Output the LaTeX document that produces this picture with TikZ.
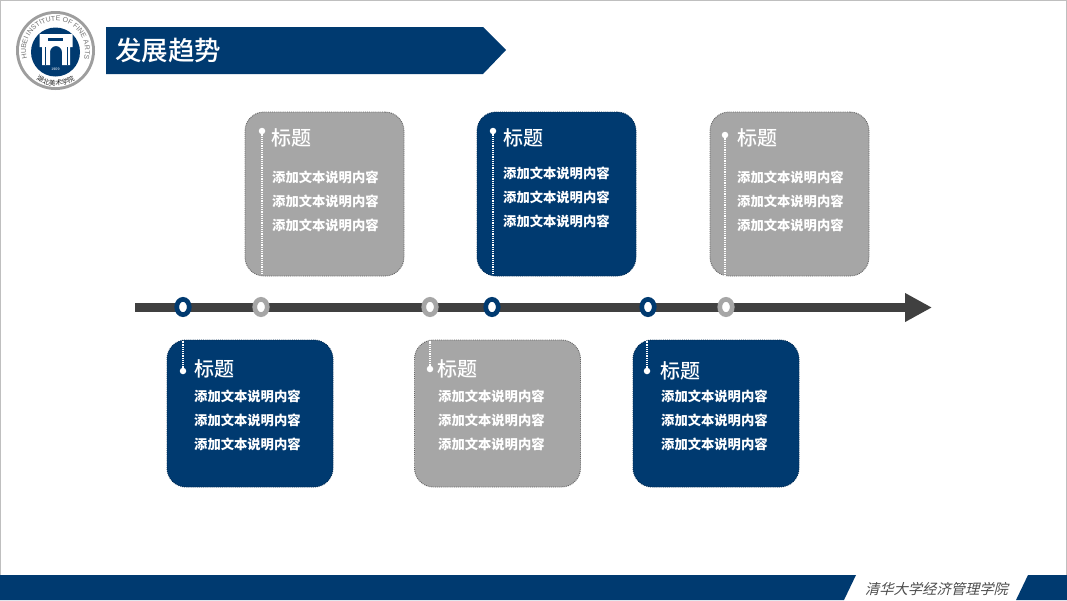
\documentclass[tikz,border=0pt]{standalone}
\usepackage{fontspec}
\setmainfont{Noto Sans CJK SC}
\newfontfamily\slantcjk[FakeSlant=0.25]{Noto Sans CJK SC}
\newfontfamily\medcjk{Noto Sans CJK SC Medium}
\newfontfamily\latinlogo{Liberation Sans}
\usetikzlibrary{arrows.meta,positioning,shapes.geometric,decorations.text}
\definecolor{navy}{HTML}{003A70}
\definecolor{greycard}{HTML}{A6A6A6}
\definecolor{axis}{HTML}{404040}
\tikzset{bluecard/.style={draw=navy!75!black,densely dotted,line width=.9pt,fill=navy,rounded corners=19pt,minimum width=159pt,minimum height=164pt,inner sep=0pt},
 greybox/.style={draw=black!60,densely dotted,line width=.9pt,fill=greycard,rounded corners=19pt,minimum width=159pt,minimum height=164pt,inner sep=0pt},
 lowcard/.style={minimum width=166pt,minimum height=147pt},
 ttl/.style={anchor=west,text=white,font=\fontsize{20}{20}\medcjk,inner sep=0pt},
 txt/.style={anchor=west,text=white,font=\fontsize{13.3}{14}\selectfont\bfseries,inner sep=0pt},
 pin/.style={circle,fill=white,inner sep=0pt,minimum size=6.5pt},
 stem/.style={white,densely dotted,line width=1.2pt},
 bluemark/.style={ellipse,draw=navy,line width=4.7pt,fill=white,inner sep=0pt,minimum width=12.5pt,minimum height=15.3pt},
 greymark/.style={bluemark,draw=greycard}}
\begin{document}
\begin{tikzpicture}[x=1pt,y=-1pt]
\useasboundingbox (0,0) rectangle (1067,600);
\fill[white] (0,0) rectangle (1067,600);
\draw[black!25,line width=1.2pt] (.5,600)--(.5,.5)--(1066.5,.5)--(1066.5,600);
% header and footer
\fill[navy] (106,27)--(483,27)--(506,50)--(483,74)--(106,74)--cycle;
\node[anchor=west,text=white,font=\fontsize{26.5}{27}\medcjk,inner sep=0pt] (header) at (115,50){发展趋势};
\fill[navy] (0,575)--(856,575)--(844,600)--(0,600)--cycle;
\fill[navy] (1028,575)--(1067,575)--(1067,600)--(1016,600)--cycle;
\node[text=black!70,font=\fontsize{14.3}{15}\slantcjk,inner sep=0pt] (school) at (936.5,589){清华大学经济管理学院};
% logo
\fill[black!38] (55.5,50.5) circle(39.5);
\fill[white] (55.5,50.5) circle(36.5);
\fill[navy] (55.5,52) circle(24.5);
\fill[white] (39.5,34)--(72.5,34)--(72.5,47)--(70,47)--(70,65)--(62,65)--(62,52) arc[start angle=0,end angle=-180,radius=6]--(50,65)--(42,65)--(42,47)--(39.5,47)--cycle;
\fill[navy] (48,38) rectangle (63,41);
\draw[navy,line width=.6pt] (45,47)--(45,65) (67,47)--(67,65);
\node[text=white,font=\fontsize{3.6}{4}\latinlogo,inner sep=0pt] (year) at (55.5,69){1909};
\path[decorate,decoration={text along path,text align=center,text color=black!55,text={|\fontsize{7}{8}\latinlogo|HUBEI INSTITUTE OF FINE ARTS}}] (55.5,50.5) ++(155:29.5) arc[start angle=155,end angle=385,radius=29.5];
\path[decorate,decoration={text along path,text align=center,text color=black!85,text={|\fontsize{6.8}{8}\selectfont|湖北美术学院}}] (55.5,50.5) ++(125:35) arc[start angle=125,end angle=55,radius=35];
% time line
\coordinate (lineStart) at (135,307.5);\coordinate (lineEnd) at (932,307.5);
\draw[axis,line width=9pt,-{Triangle[length=27pt,width=27pt]}] (lineStart)--(lineEnd);
\node[bluemark] (m1) at (183,307){};\node[greymark] (m2) at (261,307){};
\node[greymark] (m3) at (430,307){};\node[bluemark] (m4) at (492,307){};
\node[bluemark] (m5) at (648,307){};\node[greymark] (m6) at (726,307){};
% upper cards
\node[greybox] (c1) at (324.5,194){};
\node[pin] (p1) at (262,131){};\coordinate (e1) at (262,275);\draw[stem] (p1)--(e1);
\node[ttl] (t1) at (271,138){标题};
\foreach \n/\y in {1/177,2/201,3/225}{\node[txt] (b1\n) at (272,\y){添加文本说明内容};}
\node[bluecard] (c2) at (556.5,194){};
\node[pin] (p2) at (493,131){};\coordinate (e2) at (493,275);\draw[stem] (p2)--(e2);
\node[ttl] (t2) at (503,138){标题};
\foreach \n/\y in {1/173,2/197,3/221}{\node[txt] (b2\n) at (503,\y){添加文本说明内容};}
\node[greybox] (c3) at (789.5,194){};
\node[pin] (p3) at (725,135){};\coordinate (e3) at (725,275);\draw[stem] (p3)--(e3);
\node[ttl] (t3) at (737,138){标题};
\foreach \n/\y in {1/177,2/201,3/225}{\node[txt] (b3\n) at (737,\y){添加文本说明内容};}
% lower cards
\node[bluecard,lowcard] (c4) at (250,413.5){};
\node[pin] (p4) at (183,371){};\coordinate (e4) at (183,341);\draw[stem] (p4)--(e4);
\node[ttl] (t4) at (194,369){标题};
\foreach \n/\y in {1/396,2/420,3/444}{\node[txt] (b4\n) at (194,\y){添加文本说明内容};}
\node[greybox,lowcard] (c5) at (497.5,413.5){};
\node[pin] (p5) at (430,369){};\coordinate (e5) at (430,341);\draw[stem] (p5)--(e5);
\node[ttl] (t5) at (437,369){标题};
\foreach \n/\y in {1/396,2/420,3/444}{\node[txt] (b5\n) at (438,\y){添加文本说明内容};}
\node[bluecard,lowcard] (c6) at (716,413.5){};
\node[pin] (p6) at (647,371){};\coordinate (e6) at (647,341);\draw[stem] (p6)--(e6);
\node[ttl] (t6) at (660,371){标题};
\foreach \n/\y in {1/396,2/420,3/444}{\node[txt] (b6\n) at (661,\y){添加文本说明内容};}
\end{tikzpicture}
\end{document}
